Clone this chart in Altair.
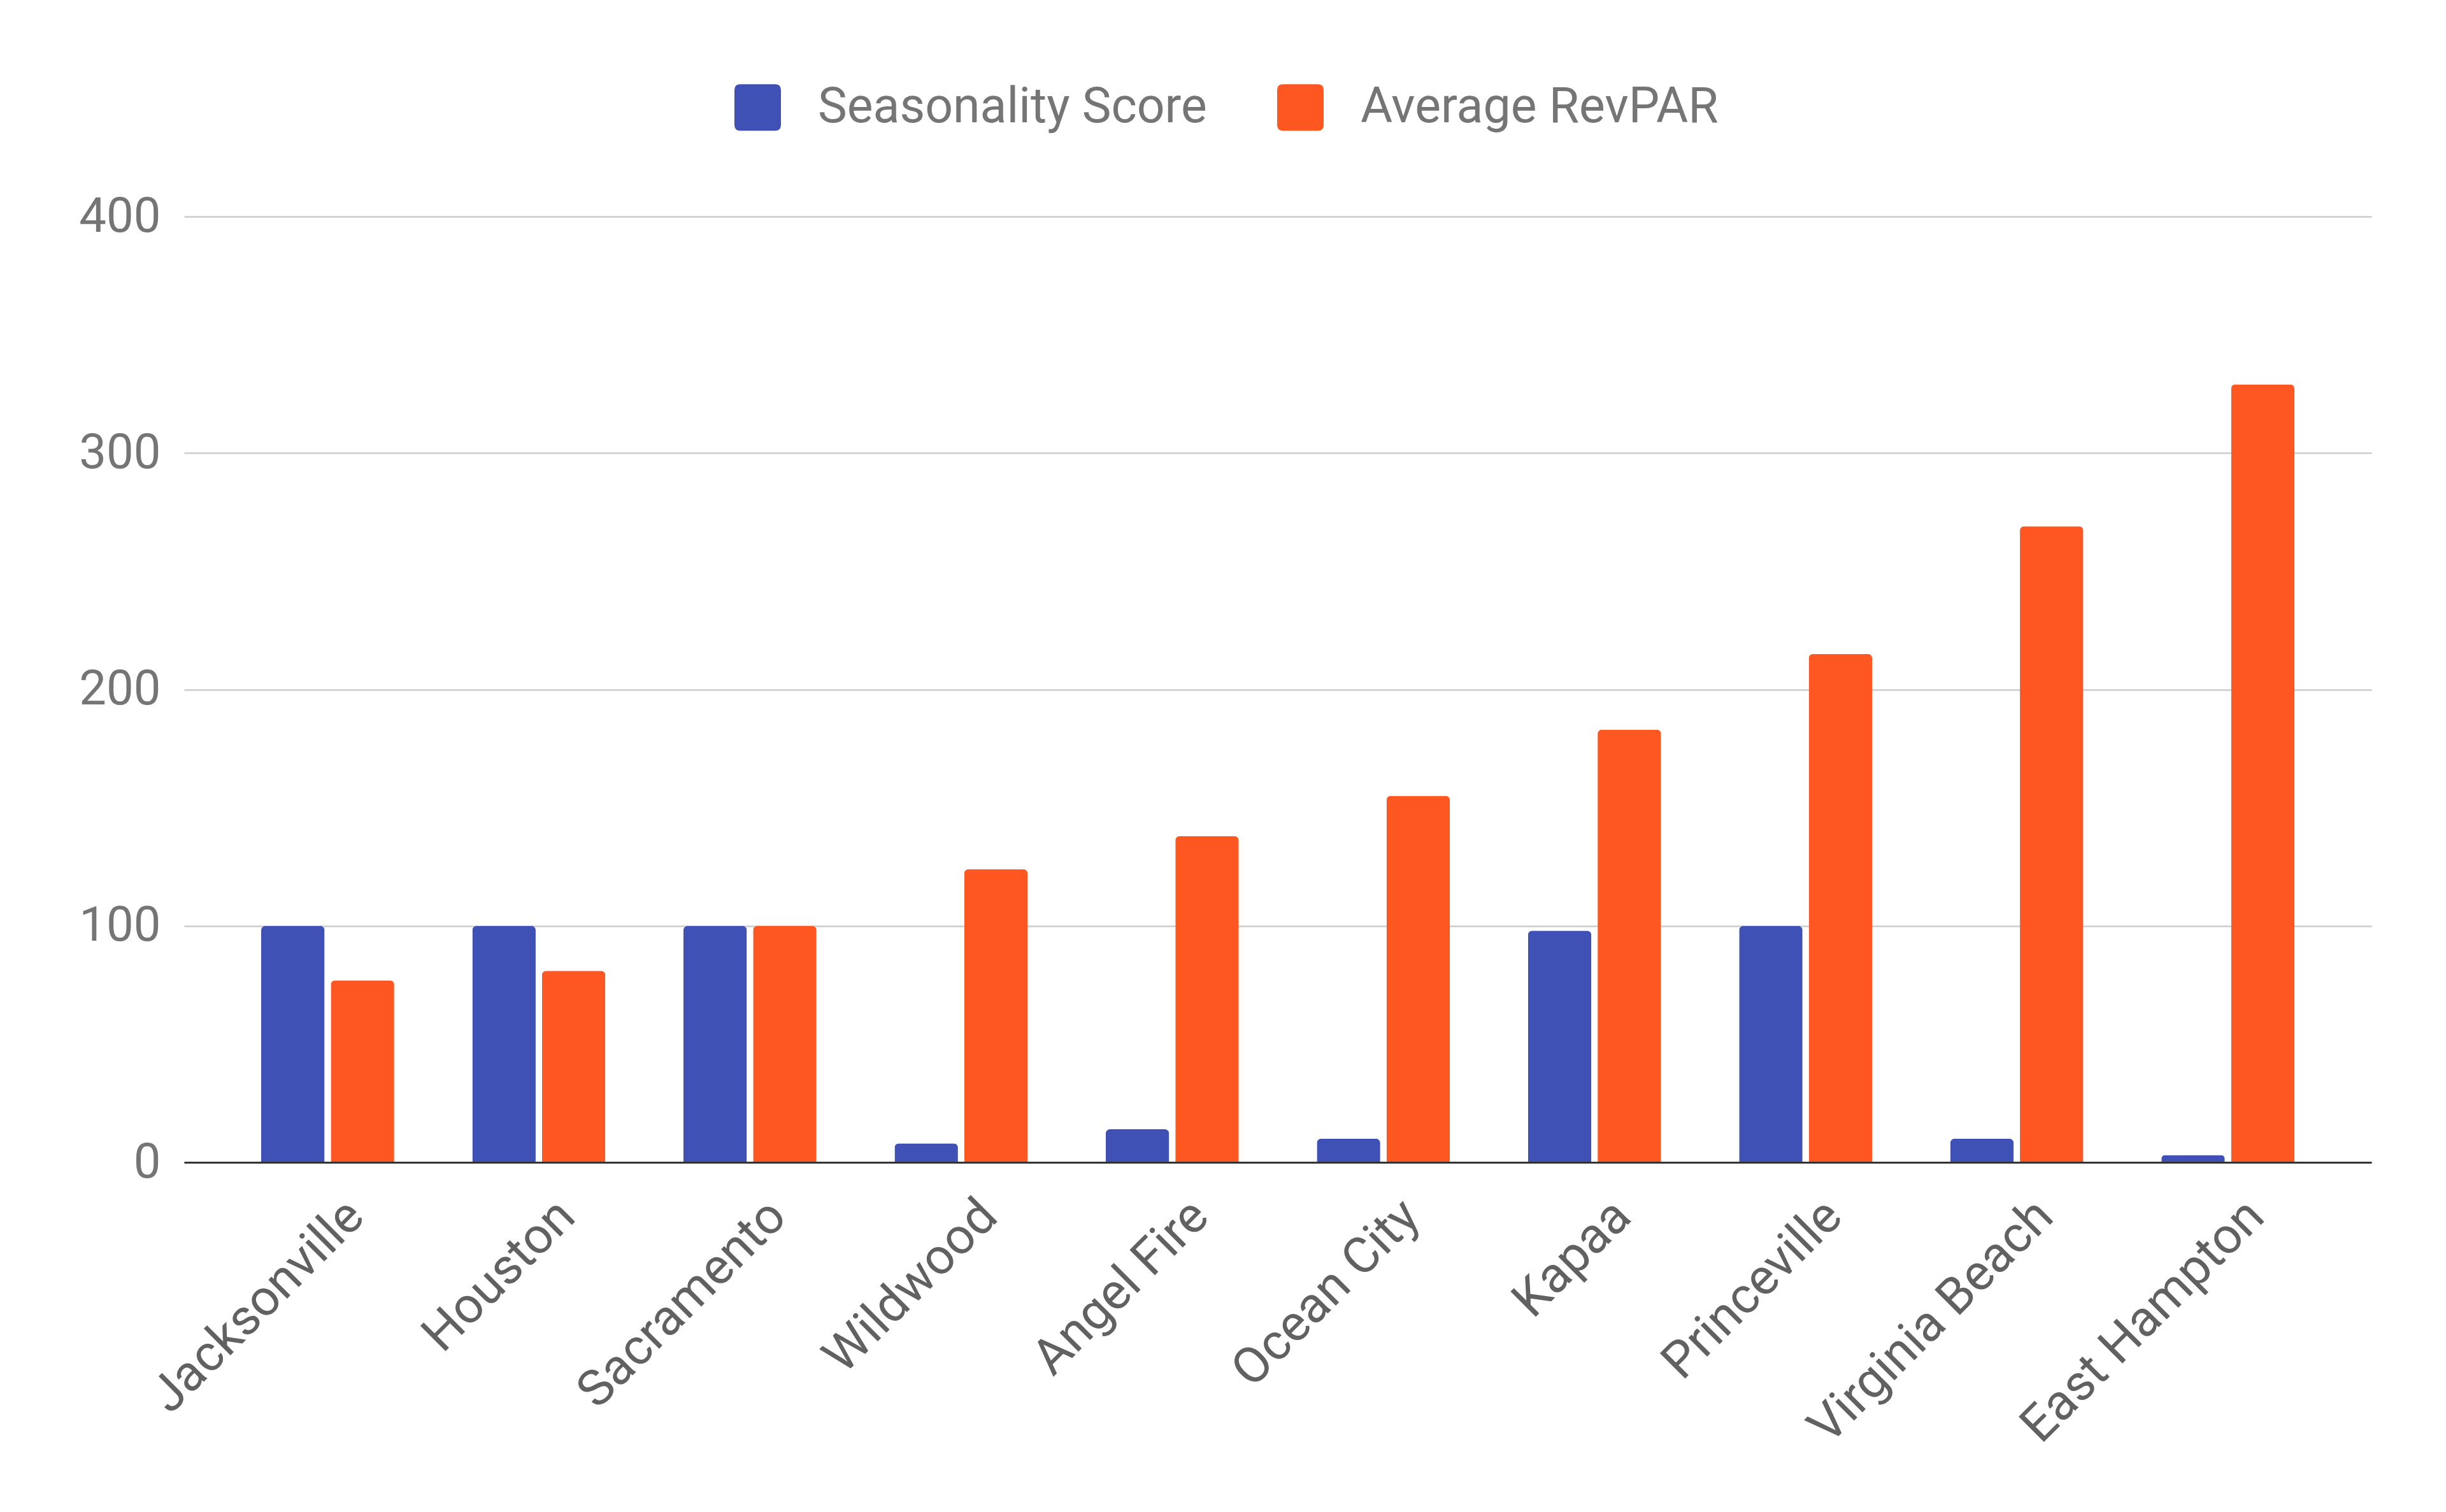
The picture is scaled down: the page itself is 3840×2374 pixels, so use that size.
import altair as alt
import pandas as pd

cities = ["Jacksonville", "Houston", "Sacramento", "Wildwood", "Angel Fire",
          "Ocean City", "Kapaa", "Princeville", "Virginia Beach", "East Hampton"]
seasonality = [100, 100, 100, 8, 14, 10, 98, 100, 10, 3]
revpar = [77, 81, 100, 124, 138, 155, 183, 215, 269, 329]
series_names = ["Seasonality Score", "Average RevPAR"]
colors = ["#3F51B5", "#FF5722"]
y_ticks = [0, 100, 200, 300, 400]

rows = []
for c, s, r in zip(cities, seasonality, revpar):
    rows.append({"city": c, "series": series_names[0], "value": s})
    rows.append({"city": c, "series": series_names[1], "value": r})
df = pd.DataFrame(rows)

rounded = ("M-0.75,-1 L0.75,-1 Q1,-1 1,-0.75 L1,0.75 Q1,1 0.75,1 "
           "L-0.75,1 Q-1,1 -1,0.75 L-1,-0.75 Q-1,-1 -0.75,-1 Z")

chart = alt.Chart(df).mark_bar(cornerRadiusTopLeft=7, cornerRadiusTopRight=7).encode(
    x=alt.X("city:N", sort=cities,
            scale=alt.Scale(paddingInner=0.37, paddingOuter=0.365),
            axis=alt.Axis(title=None, labelAngle=-45, labelAlign="right", labelBaseline="top",
                          labelPadding=45, labelOffset=17, ticks=False,
                          domainColor="#333333", domainWidth=3, labelFont="Roboto",
                          labelFontSize=79, labelColor="#616161", zindex=1, grid=False,
                          labelOverlap=False, labelLimit=2000)),
    xOffset=alt.XOffset("series:N", sort=series_names, scale=alt.Scale(paddingInner=0.09)),
    y=alt.Y("value:Q", scale=alt.Scale(domain=[0, 400], nice=False),
            axis=alt.Axis(title=None, values=y_ticks, ticks=False, domain=False,
                          gridColor="#cccccc", gridWidth=2.5, labelPadding=37,
                          labelFont="Roboto", labelFontSize=76, labelColor="#757575")),
    color=alt.Color("series:N", sort=series_names,
                    scale=alt.Scale(domain=series_names, range=colors),
                    legend=alt.Legend(title=None, orient="none", legendX=862, legendY=-210,
                                      direction="horizontal", symbolType=rounded,
                                      symbolSize=5329, labelOffset=56, columnPadding=108,
                                      labelFont="Roboto", labelFontSize=77,
                                      labelColor="#757575", symbolStrokeWidth=0,
                                      labelLimit=2000)),
).properties(
    width=3434, height=1485,
    autosize=alt.AutoSizeParams(type="none"),
    padding={"left": 289, "top": 340, "right": 117, "bottom": 549},
).configure_view(stroke=None)

chart.save("out.html", embed_options={"renderer": "svg", "actions": False})
